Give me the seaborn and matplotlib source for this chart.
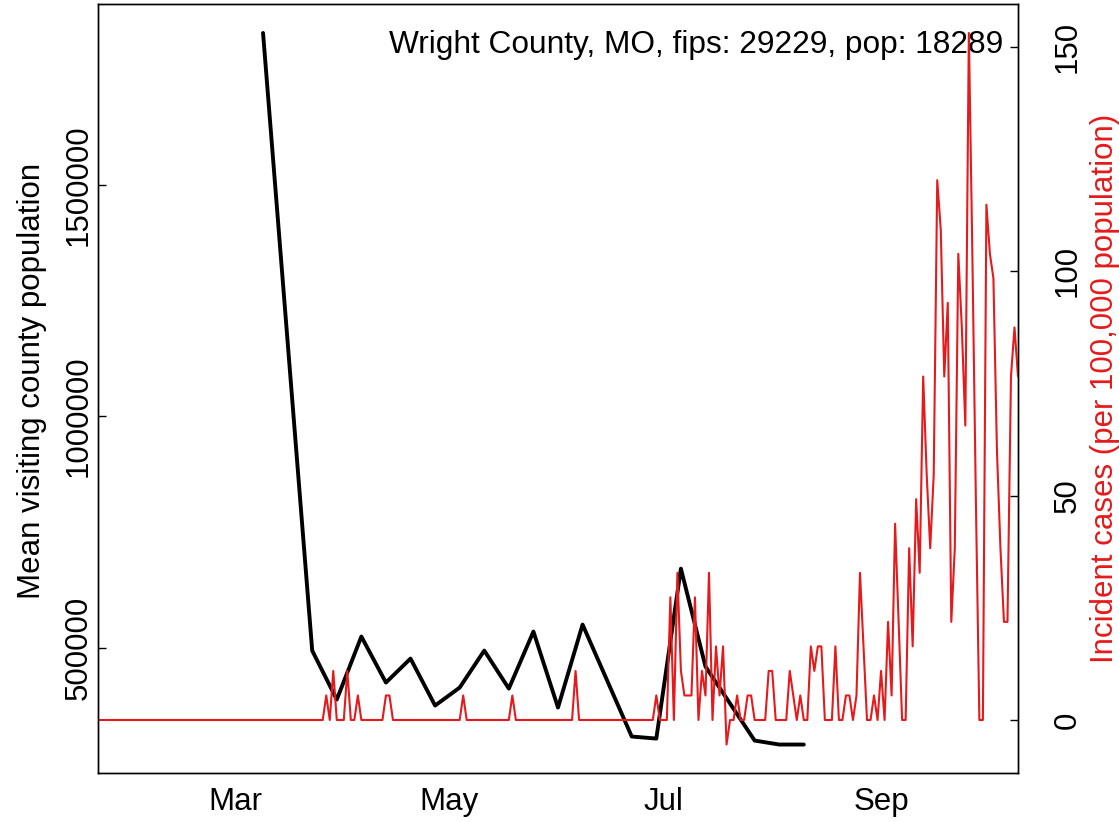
import numpy as np
import pandas as pd
import matplotlib
matplotlib.use("Agg")
import matplotlib.pyplot as plt
import matplotlib.dates as mdates
from matplotlib.ticker import MultipleLocator, FuncFormatter
import seaborn as sns

# county info
county_label = "Wright County, MO, fips: 29229, pop: 18289"
county_pop = 18289

# weekly mean visiting county population (black line)
visit_dates = pd.to_datetime([
    "2020-03-09", "2020-03-23", "2020-03-30", "2020-04-06", "2020-04-13",
    "2020-04-20", "2020-04-27", "2020-05-04", "2020-05-11", "2020-05-18",
    "2020-05-25", "2020-06-01", "2020-06-08", "2020-06-22", "2020-06-29",
    "2020-07-06", "2020-07-13", "2020-07-27", "2020-08-03", "2020-08-10",
])
visit_pop = [
    1828000, 493500, 387700, 523800, 424400,
    476200, 374700, 413600, 493500, 411400,
    534600, 370400, 549700, 307800, 303400,
    670600, 459000, 299100, 290500, 290500,
]

# daily new cases, 2020-01-22 .. 2020-10-10
case_start = "2020-01-22"
cases_jan = [0, 0, 0, 0, 0, 0, 0, 0, 0, 0]
cases_feb = [0] * 29
cases_mar = [0, 0, 0, 0, 0, 0, 0, 0, 0, 0, 0, 0, 0, 0, 0, 0,
             0, 0, 0, 0, 0, 0, 0, 0, 0, 0, 1, 0, 2, 0, 0]
cases_apr = [0, 2, 0, 0, 1, 0, 0, 0, 0, 0, 0, 0, 1, 1, 0,
             0, 0, 0, 0, 0, 0, 0, 0, 0, 0, 0, 0, 0, 0, 0]
cases_may = [0, 0, 0, 0, 1, 0, 0, 0, 0, 0, 0, 0, 0, 0, 0, 0,
             0, 0, 1, 0, 0, 0, 0, 0, 0, 0, 0, 0, 0, 0, 0]
cases_jun = [0, 0, 0, 0, 0, 2, 0, 0, 0, 0, 0, 0, 0, 0, 0,
             0, 0, 0, 0, 0, 0, 0, 0, 0, 0, 0, 0, 0, 1, 0]
cases_jul = [0, 0, 5, 0, 6, 2, 1, 1, 1, 5, 0, 2, 1, 6, 0, 3,
             1, 3, -1, 0, 0, 1, 0, 0, 1, 1, 0, 0, 0, 0, 2]
cases_aug = [2, 0, 0, 0, 0, 2, 1, 0, 1, 0, 0, 3, 2, 3, 3, 0,
             0, 0, 3, 0, 0, 1, 1, 0, 1, 6, 3, 0, 0, 1, 0]
cases_sep = [2, 0, 4, 1, 8, 4, 0, 0, 7, 3, 9, 6, 14, 10, 7,
             10, 22, 20, 14, 17, 4, 7, 19, 16, 12, 28, 19, 9, 0, 0]
cases_oct = [21, 19, 18, 11, 7, 4, 4, 14, 16, 14]

daily_cases = (cases_jan + cases_feb + cases_mar + cases_apr + cases_may
               + cases_jun + cases_jul + cases_aug + cases_sep + cases_oct)

visits = pd.DataFrame({"date": visit_dates, "pop": visit_pop})
cases = pd.DataFrame({
    "date": pd.date_range(case_start, periods=len(daily_cases), freq="D"),
    "cases": daily_cases,
})
cases["per100k"] = cases["cases"] / county_pop * 100000

sns.set_theme(style="white")
plt.rcParams["font.family"] = ["Liberation Sans", "DejaVu Sans"]
plt.rcParams["font.size"] = 22.5
for key in ("text.color", "axes.labelcolor", "xtick.color", "ytick.color"):
    plt.rcParams[key] = "black"
red = "#E41A1C"

fig = plt.figure(figsize=(11.19, 8.22), dpi=100)
ax = fig.add_axes([98 / 1119, 1 - 773 / 822, 920 / 1119, 768.5 / 822])
ax2 = ax.twinx()

sns.lineplot(data=visits, x="date", y="pop", ax=ax, color="black", lw=2.8)
sns.lineplot(data=cases, x="date", y="per100k", ax=ax2, color=red, lw=1.5)

ax.set_xlim(cases["date"].iloc[0], cases["date"].iloc[-1])
ax.margins(y=0.04)
ax2.margins(y=0.04)

ax.xaxis.set_major_locator(mdates.MonthLocator(bymonth=[3, 5, 7, 9]))
ax.xaxis.set_major_formatter(mdates.DateFormatter("%b"))
ax.yaxis.set_major_locator(MultipleLocator(500000))
ax.yaxis.set_major_formatter(FuncFormatter(lambda v, p: f"{v:.0f}"))
ax2.yaxis.set_major_locator(MultipleLocator(50))

ax.set_xlabel("")
ax.set_ylabel("Mean visiting county population", fontsize=22.5, va="center")
ax.yaxis.set_label_coords(-0.072, 0.51)
ax2.set_ylabel("Incident cases (per 100,000 population)", fontsize=22.5,
               color=red, va="center")
ax2.yaxis.set_label_coords(1.0945, 0.5)

ax.tick_params(axis="x", direction="in", length=6, width=1, labelsize=22.5, pad=10)
ax.tick_params(axis="y", direction="in", length=6, width=1, labelsize=22.5,
               pad=3, labelrotation=90)
ax2.tick_params(axis="y", direction="in", length=6, width=1, labelsize=22.5,
                pad=25, labelrotation=90)
for lab in ax.get_yticklabels() + ax2.get_yticklabels():
    lab.set_va("center")

for a in (ax, ax2):
    for s in a.spines.values():
        s.set_color("black")
        s.set_linewidth(1.0)

ax.text(0.984, 0.947, county_label, transform=ax.transAxes,
        ha="right", va="center", fontsize=22.8)

fig.savefig("out.png", dpi=100)
